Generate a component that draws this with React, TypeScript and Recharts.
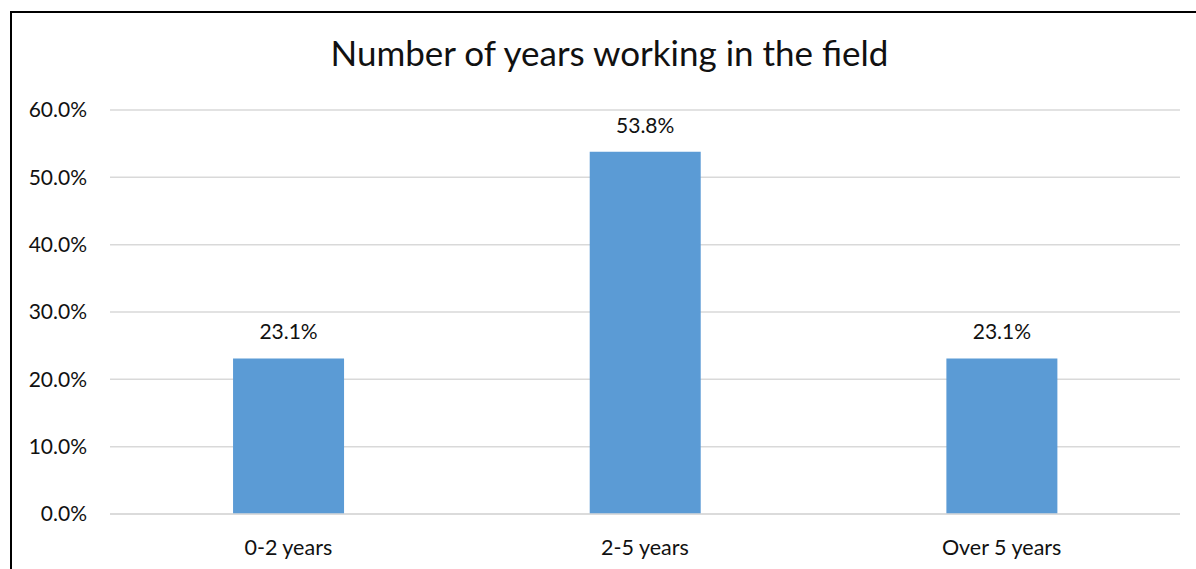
import { BarChart, Bar, XAxis, YAxis, CartesianGrid, LabelList } from 'recharts'

const categories = ['0-2 years', '2-5 years', 'Over 5 years']
const shares = [23.1, 53.8, 23.1]
const yTicks = [0, 10, 20, 30, 40, 50, 60]

const data = categories.map((name, i) => ({ name, share: shares[i] }))

const font = 'Lato, "Open Sans", sans-serif'
const textColor = '#111'

export default function App() {
  return (
    <div
      style={{
        position: 'absolute',
        left: 0,
        top: 0,
        width: 1196,
        height: 569,
        background: '#fff',
        overflow: 'hidden',
        fontFamily: font,
      }}
    >
      {/* frame: only left and top edges show in the crop */}
      <div
        style={{
          position: 'absolute',
          left: 10,
          top: 11,
          right: -10,
          bottom: -10,
          borderLeft: '2px solid #000',
          borderTop: '2px solid #000',
        }}
      />
      <div
        style={{
          position: 'absolute',
          left: 0,
          width: 1219,
          top: 32,
          textAlign: 'center',
          fontSize: 35,
          color: textColor,
          lineHeight: '40px',
        }}
      >
        Number of years working in the field
      </div>
      <div style={{ position: 'absolute', left: 0, top: 0 }}>
        <BarChart
          width={1196}
          height={569}
          data={data}
          margin={{ top: 110, right: 16, left: 0, bottom: 15 }}
          barCategoryGap="34.5%"
        >
          <CartesianGrid vertical={false} stroke="#d9d9d9" strokeWidth={1.5} />
          <XAxis
            dataKey="name"
            height={40}
            axisLine={{ stroke: '#d9d9d9', strokeWidth: 1.5 }}
            tickLine={false}
            tickSize={0}
            tickMargin={26}
            tick={{ fill: textColor, fontSize: 21.5, fontFamily: font }}
          />
          <YAxis
            width={110}
            domain={[0, 60]}
            ticks={yTicks}
            axisLine={false}
            tickLine={false}
            tickSize={0}
            tickMargin={23}
            tickFormatter={(v: number) => `${v.toFixed(1)}%`}
            tick={{ fill: textColor, fontSize: 21, fontFamily: font }}
          />
          <Bar dataKey="share" fill="#5b9bd5" isAnimationActive={false}>
            <LabelList
              dataKey="share"
              position="top"
              offset={19}
              formatter={(v: number) => `${v.toFixed(1)}%`}
              style={{ fill: textColor, fontSize: 21, fontFamily: font }}
            />
          </Bar>
        </BarChart>
      </div>
    </div>
  )
}
